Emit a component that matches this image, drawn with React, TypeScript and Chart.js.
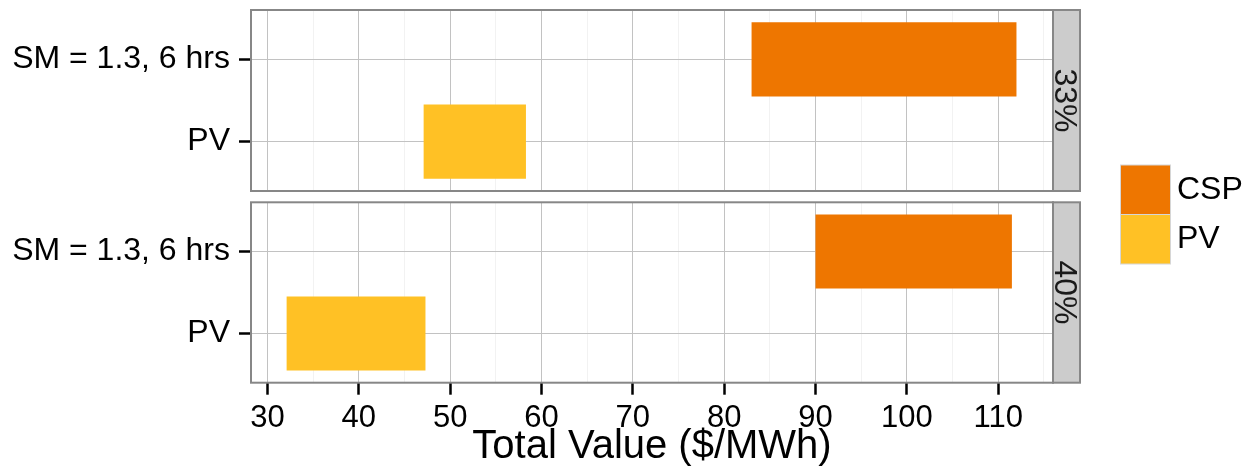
import React, { useEffect, useRef } from 'react';
import { Chart, registerables } from 'chart.js';

Chart.register(...registerables);

// ---------- data ----------
const categories = ['SM = 1.3, 6 hrs', 'PV'];
const panels = ['33%', '40%'];
const series = ['CSP', 'PV'];
const cspLow = [83.0, 90.0];
const cspHigh = [112.0, 111.5];
const pvLow = [47.1, 32.1];
const pvHigh = [58.3, 47.3];
const xAxisTitle = 'Total Value ($/MWh)';

// ---------- styles / layout ----------
const seriesColors = ['#EE7600', '#FFC125'];
const W = 1243;
const H = 466;
const FONT = "'Liberation Sans', Arial, Helvetica, sans-serif";
const PANEL_LEFT = 251;
const PANEL_RIGHT = 1053;
const STRIP_W = 27;
const panelTops = [10, 202.3];
const panelBottoms = [191, 382.7];
const X_MIN = 28.2;
const X_MAX = 116;
const MAJOR = '#c2c2c2';
const MINOR = '#f2f2f2';
const BORDER = '#878787';

Chart.defaults.font.family = FONT;

const zeroPad = (s: any) => {
  s.paddingTop = 0;
  s.paddingBottom = 0;
  s.paddingLeft = 0;
  s.paddingRight = 0;
};

const panelDecor = {
  id: 'panelDecor',
  beforeDraw(chart: any) {
    const { ctx, chartArea: a } = chart;
    ctx.save();
    ctx.fillStyle = '#CCCCCC';
    ctx.fillRect(a.right, a.top, STRIP_W, a.bottom - a.top);
    ctx.restore();
  },
  afterDraw(chart: any, _args: any, opts: any) {
    const { ctx, chartArea: a } = chart;
    ctx.save();
    ctx.strokeStyle = BORDER;
    ctx.lineWidth = 2;
    ctx.strokeRect(a.left, a.top, a.right - a.left, a.bottom - a.top);
    ctx.strokeRect(a.right, a.top, STRIP_W, a.bottom - a.top);
    if (opts && opts.legend) {
      const lx = 1120.5;
      const ly = 165;
      const bw = 50;
      const bh = 49.5;
      chart.data.datasets.forEach((ds: any, i: number) => {
        ctx.fillStyle = ds.backgroundColor;
        ctx.fillRect(lx, ly + i * bh, bw, bh);
        ctx.strokeStyle = '#d6d6d6';
        ctx.lineWidth = 1;
        ctx.strokeRect(lx, ly + i * bh, bw, bh);
        ctx.fillStyle = '#000';
        ctx.font = `32px ${FONT}`;
        ctx.textBaseline = 'middle';
        ctx.textAlign = 'left';
        ctx.fillText(ds.label, 1177, ly + i * bh + bh / 2);
      });
    }
    ctx.restore();
  },
};

function makeConfig(p: number, isBottom: boolean): any {
  const barOpts = {
    borderWidth: 0,
    grouped: false,
    categoryPercentage: 1,
    barPercentage: 0.9,
    xAxisID: 'x',
    yAxisID: 'y',
  };
  return {
    type: 'bar',
    data: {
      datasets: [
        {
          label: series[0],
          data: [{ x: [cspLow[p], cspHigh[p]], y: 0 }],
          backgroundColor: seriesColors[0],
          ...barOpts,
        },
        {
          label: series[1],
          data: [{ x: [pvLow[p], pvHigh[p]], y: 1 }],
          backgroundColor: seriesColors[1],
          ...barOpts,
        },
      ],
    },
    options: {
      indexAxis: 'y',
      animation: false,
      responsive: false,
      devicePixelRatio: 1,
      layout: {
        autoPadding: false,
        padding: {
          left: 0,
          right: W - PANEL_RIGHT - STRIP_W,
          top: panelTops[p],
          bottom: isBottom ? 0 : H - panelBottoms[p],
        },
      },
      plugins: {
        legend: { display: false },
        tooltip: { enabled: false },
        title: { display: false },
        panelDecor: { legend: isBottom },
      },
      scales: {
        x: {
          type: 'linear',
          position: 'bottom',
          offset: false,
          min: X_MIN,
          max: X_MAX,
          ticks: {
            display: isBottom,
            stepSize: 5,
            includeBounds: false,
            autoSkip: false,
            maxRotation: 0,
            minRotation: 0,
            padding: 5,
            color: '#000',
            font: { size: 31, family: FONT },
            callback: (v: number) => (v % 10 === 0 ? String(v) : ''),
          },
          grid: {
            offset: false,
            color: (c: any) => (c.tick && c.tick.value % 10 === 0 ? MAJOR : MINOR),
            lineWidth: 1,
            drawTicks: isBottom,
            tickLength: 12,
            tickWidth: 2.5,
            tickColor: (c: any) => (c.tick && c.tick.value % 10 === 0 ? '#000' : 'rgba(0,0,0,0)'),
          },
          border: { display: false },
          title: {
            display: isBottom,
            text: xAxisTitle,
            color: '#000',
            font: { size: 40, lineHeight: 0.9, family: FONT },
            padding: { top: 0, bottom: 1 },
          },
          afterFit: (s: any) => {
            s.height = isBottom ? H - panelBottoms[p] : 0;
            zeroPad(s);
          },
        },
        y: {
          type: 'linear',
          position: 'left',
          offset: false,
          min: -0.6,
          max: 1.6,
          reverse: true,
          ticks: {
            stepSize: 1,
            includeBounds: false,
            autoSkip: false,
            padding: 9,
            color: '#000',
            font: { size: 32, family: FONT },
            callback: (v: number) => (categories[v] !== undefined ? categories[v] : ''),
          },
          grid: {
            offset: false,
            color: MAJOR,
            lineWidth: 1,
            drawTicks: true,
            tickLength: 12,
            tickWidth: 2.5,
            tickColor: '#000',
          },
          border: { display: false },
          afterFit: (s: any) => {
            s.width = PANEL_LEFT;
            zeroPad(s);
          },
        },
        strip: {
          type: 'linear',
          position: 'right',
          display: true,
          offset: false,
          grid: { display: false, drawTicks: false },
          ticks: { display: false },
          border: { display: false },
          title: {
            display: true,
            text: panels[p],
            color: '#1a1a1a',
            font: { size: 32, lineHeight: 1, family: FONT },
            padding: 0,
          },
          afterFit: (s: any) => {
            s.width = STRIP_W;
            zeroPad(s);
          },
        },
      },
    },
    plugins: [panelDecor],
  };
}

export default function App() {
  const topRef = useRef<HTMLCanvasElement>(null);
  const botRef = useRef<HTMLCanvasElement>(null);

  useEffect(() => {
    const c1 = new Chart(topRef.current as HTMLCanvasElement, makeConfig(0, false));
    const c2 = new Chart(botRef.current as HTMLCanvasElement, makeConfig(1, true));
    return () => {
      c1.destroy();
      c2.destroy();
    };
  }, []);

  return (
    <div style={{ position: 'absolute', left: 0, top: 0, width: W, height: H, background: '#fff' }}>
      <canvas ref={botRef} width={W} height={H} style={{ position: 'absolute', left: 0, top: 0 }} />
      <canvas ref={topRef} width={W} height={H} style={{ position: 'absolute', left: 0, top: 0 }} />
    </div>
  );
}
